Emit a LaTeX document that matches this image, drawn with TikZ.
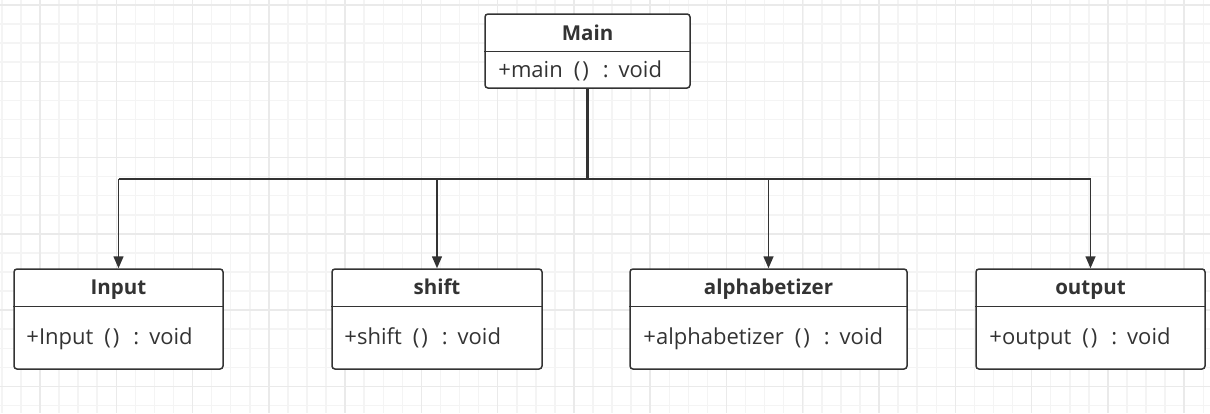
\documentclass[tikz,border=0pt]{standalone}
\usepackage{fontspec}
\setmainfont{Open Sans}
\usetikzlibrary{arrows.meta,positioning}

\definecolor{ink}{HTML}{333333}
\definecolor{minorgrid}{HTML}{F4F4F4}
\definecolor{majorgrid}{HTML}{EAEAEA}

% method signature with the wide spacing of the original
\newcommand{\sig}[1]{+#1\hspace{11pt}(\hspace{2pt})\hspace{14pt}:\hspace{10pt}void}

\begin{document}
\begin{tikzpicture}[
    x = 1pt, y = -1pt, % pixel coordinates, y grows downwards
    >= {Triangle[width=10pt, length=12pt]}, % arrow head style
    classbox/.style = {draw=ink, fill=white, line width=1.5pt, rounded corners=3pt, inner sep=0pt},
    classname/.style = {font=\fontsize{20.5}{24}\selectfont\bfseries, text=ink, inner sep=0pt, anchor=base},
    method/.style = {font=\fontsize{22}{26}\selectfont, text=ink, inner sep=0pt, anchor=base west},
    divider/.style = {draw=ink, line width=1.5pt},
    trunk/.style = {draw=ink, line width=3pt},
    bus/.style = {draw=ink, line width=2pt},
    drop/.style = {draw=ink, line width=1.5pt, ->}
]

\useasboundingbox (0,0) rectangle (1210,413);
\fill[white] (0,0) rectangle (1210,413);

% Grid
\foreach \i in {0,...,63} {
    \draw[minorgrid, line width=1.5pt] ({1.86+19.07*\i},0) -- ({1.86+19.07*\i},413);
}
\foreach \j in {-1,...,21} {
    \draw[minorgrid, line width=1.5pt] (0,{5+19.07*\j}) -- (1210,{5+19.07*\j});
}
\foreach \i in {0,...,15} {
    \draw[majorgrid, line width=1.5pt] ({40+76.27*\i},0) -- ({40+76.27*\i},413);
}
\foreach \j in {0,...,5} {
    \draw[majorgrid, line width=1.5pt] (0,{5+76.27*\j}) -- (1210,{5+76.27*\j});
}

% Classes
\node[classbox, minimum width=205pt, minimum height=74pt] (main) at (587.5,51) {};
\node[classbox, minimum width=209pt, minimum height=100pt] (input) at (118.5,319) {};
\node[classbox, minimum width=210pt, minimum height=100pt] (shift) at (437,319) {};
\node[classbox, minimum width=277pt, minimum height=100pt] (alpha) at (768.5,319) {};
\node[classbox, minimum width=229pt, minimum height=100pt] (output) at (1090.5,319) {};

% Names
\node[classname] (main-name) at ([yshift=-27pt]main.north) {Main};
\node[classname] (input-name) at ([yshift=-26pt]input.north) {Input};
\node[classname] (shift-name) at ([yshift=-26pt]shift.north) {shift};
\node[classname] (alpha-name) at ([yshift=-26pt]alpha.north) {alphabetizer};
\node[classname] (output-name) at ([yshift=-26pt]output.north) {output};

% Dividers
\foreach \c in {main, input, shift, alpha, output} {
    \draw[divider] ([yshift=-38pt]\c.north west) -- ([yshift=-38pt]\c.north east);
}

% Methods
\node[method] (main-op) at ([xshift=14pt, yshift=-64pt]main.north west) {\sig{main}};
\node[method] (input-op) at ([xshift=13pt, yshift=-76pt]input.north west) {\sig{Input}};
\node[method] (shift-op) at ([xshift=13pt, yshift=-76pt]shift.north west) {\sig{shift}};
\node[method] (alpha-op) at ([xshift=14pt, yshift=-76pt]alpha.north west) {\sig{alphabetizer}};
\node[method] (output-op) at ([xshift=14pt, yshift=-76pt]output.north west) {\sig{output}};

% Edges
\coordinate (fork) at (587.5,179);
\draw[trunk] (main.south) -- (fork);
\draw[bus] (input.north |- fork) -- (output.north |- fork);
\draw[drop] (input.north |- fork) -- (input.north);
\draw[drop] (shift.north |- fork) -- (shift.north);
\draw[drop] (alpha.north |- fork) -- (alpha.north);
\draw[drop] (output.north |- fork) -- (output.north);

\end{tikzpicture}
\end{document}
